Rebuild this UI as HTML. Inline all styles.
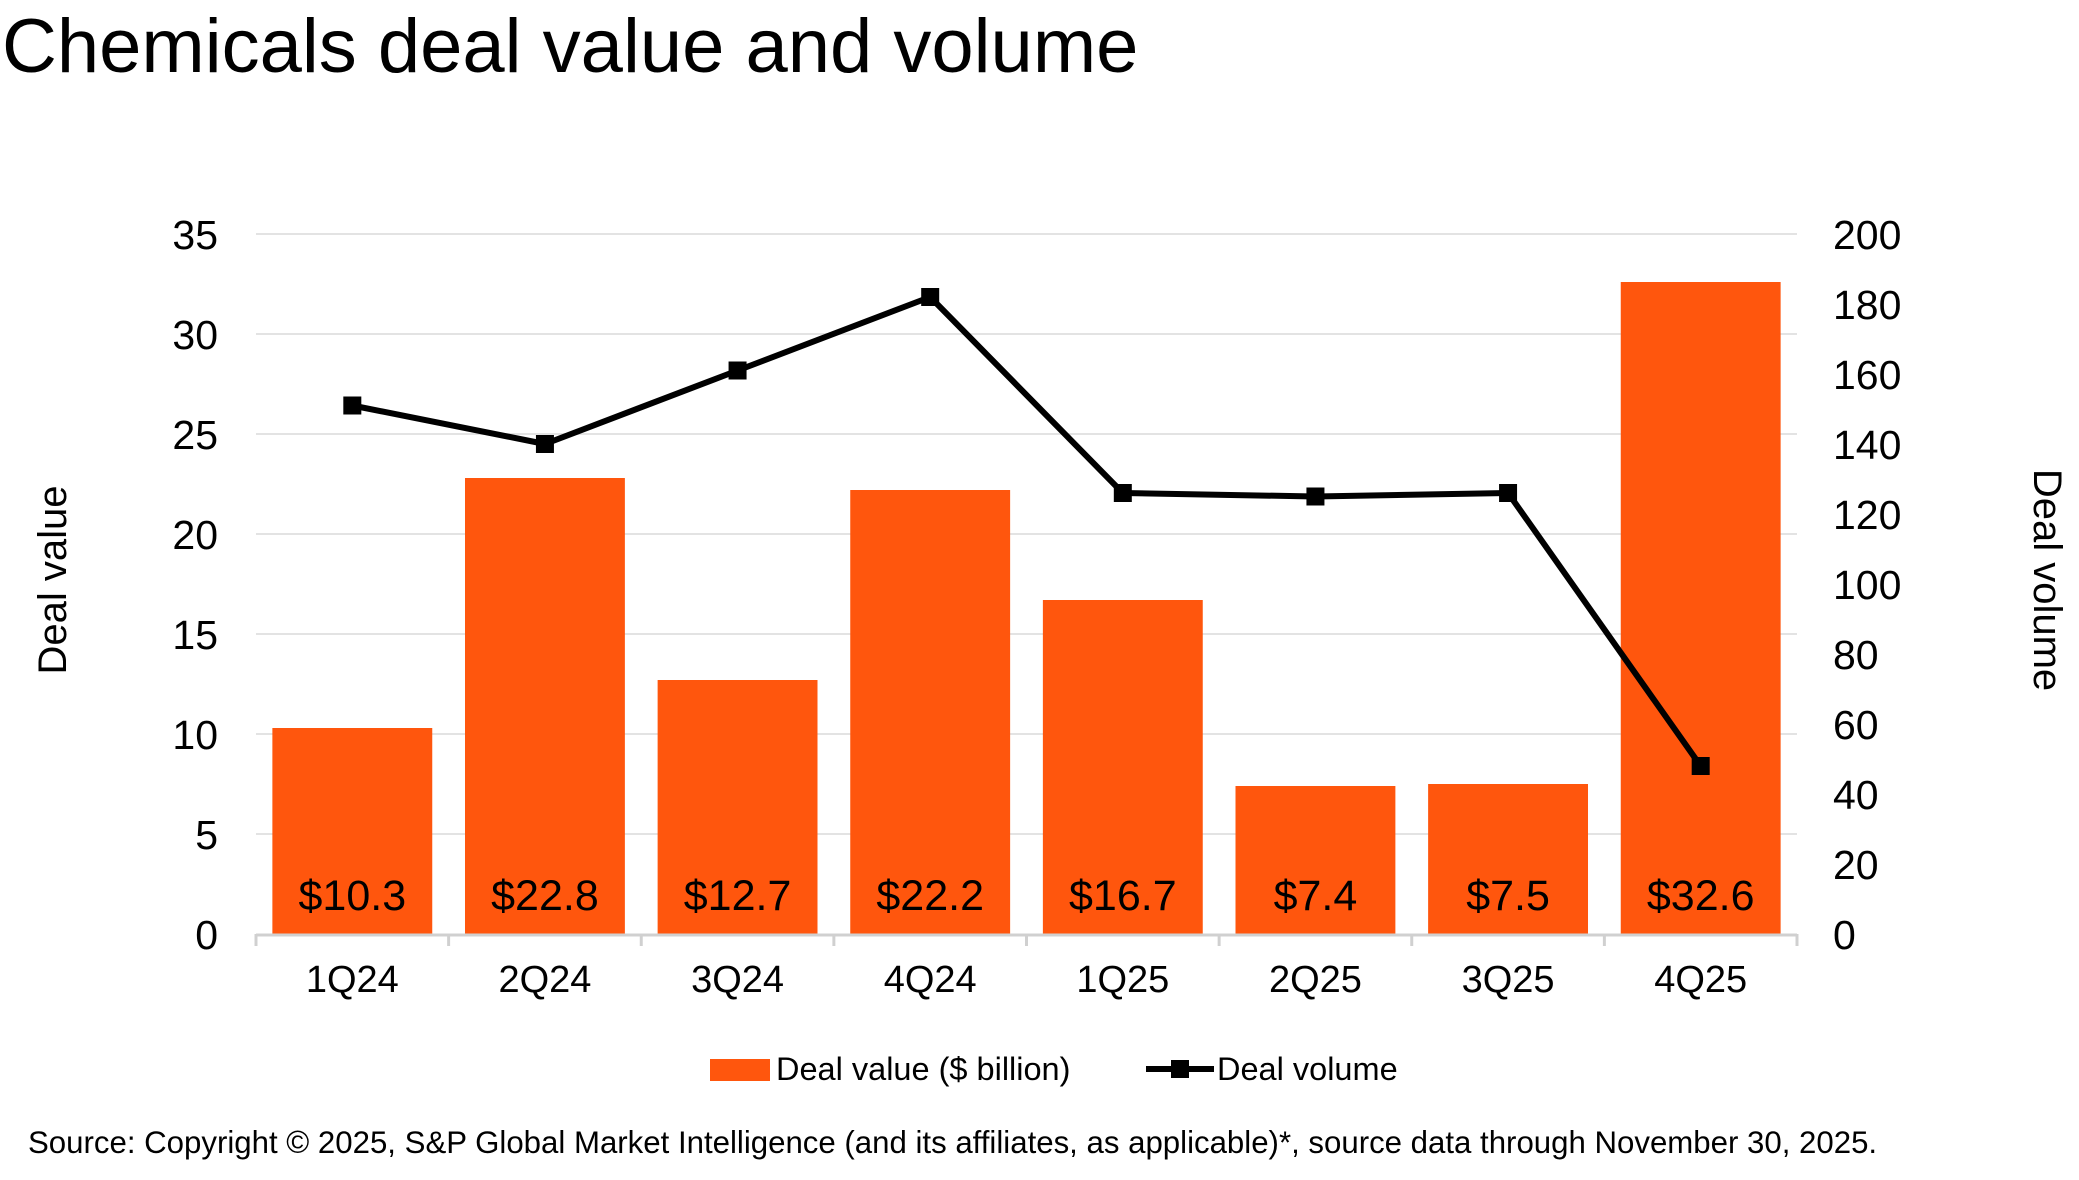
<!DOCTYPE html>
<html><head><meta charset="utf-8"><style>
html,body{margin:0;padding:0;background:#fff;}
svg{display:block;font-family:"Liberation Sans",Arial,sans-serif;}
</style></head><body>
<svg id="chart" width="2079" height="1180" viewBox="0 0 2079 1180">
<rect x="0" y="0" width="2079" height="1180" fill="#fff"/>
<text x="2" y="72" font-size="76" fill="#000">Chemicals deal value and volume</text>
<g id="grid"></g><g id="bars"></g><g id="line"></g><g id="axes"></g>
<text transform="translate(66,580) rotate(-90)" text-anchor="middle" font-size="40">Deal value</text>
<text transform="translate(2034,580) rotate(90)" text-anchor="middle" font-size="40">Deal volume</text>
<g>
<rect x="710" y="1059" width="60" height="22" fill="#FF560D"/>
<text x="776" y="1080" font-size="32.5">Deal value ($ billion)</text>
<line x1="1146" y1="1069" x2="1214" y2="1069" stroke="#000" stroke-width="6"/>
<rect x="1171" y="1060" width="18" height="18" fill="#000"/>
<text x="1217" y="1080" font-size="32.5">Deal volume</text>
</g>
<text x="28" y="1153" font-size="31.2">Source: Copyright © 2025, S&amp;P Global Market Intelligence (and its affiliates, as applicable)*, source data through November 30, 2025.</text>
</svg>
<script>
const categories = ["1Q24","2Q24","3Q24","4Q24","1Q25","2Q25","3Q25","4Q25"];
const dealValue = [10.3,22.8,12.7,22.2,16.7,7.4,7.5,32.6];
const valueLabels = ["$10.3","$22.8","$12.7","$22.2","$16.7","$7.4","$7.5","$32.6"];
const dealVolume = [151,140,161,182,126,125,126,48];
const leftTicks = [0,5,10,15,20,25,30,35];
const rightTicks = [0,20,40,60,80,100,120,140,160,180,200];

const NS="http://www.w3.org/2000/svg";
const X0=256,X1=1797,Y0=934,Y1=234;
const band=(X1-X0)/categories.length;
const xc=i=>X0+band*(i+0.5);
const yL=v=>Y0-(v/35)*(Y0-Y1);
const yR=v=>Y0-(v/200)*(Y0-Y1);
function mk(tag,attrs,parent,txt){const e=document.createElementNS(NS,tag);for(const k in attrs)e.setAttribute(k,attrs[k]);if(txt!==undefined)e.textContent=txt;parent.appendChild(e);return e;}
const grid=document.getElementById('grid'),bars=document.getElementById('bars'),line=document.getElementById('line'),axes=document.getElementById('axes');
leftTicks.forEach(t=>{
  if(t>0){const g=mk('line',{x1:X0,x2:X1,y1:yL(t),y2:yL(t),stroke:'#e3e3e3','stroke-width':2},grid);
  
  }
  const l=mk('text',{x:218,y:yL(t)+15,'text-anchor':'end','font-size':41},axes,String(t));
  
  
});
rightTicks.forEach(t=>{
  const l=mk('text',{x:1833,y:yR(t)+15,'font-size':41},axes,String(t));
  
  
});
const ax=mk('line',{x1:X0,x2:X1,y1:Y0+1,y2:Y0+1,stroke:'#d0d0d0','stroke-width':3},axes);


for(let i=0;i<=categories.length;i++){mk('line',{x1:X0+band*i,x2:X0+band*i,y1:Y0,y2:Y0+12,stroke:'#d0d0d0','stroke-width':3},axes);}
const bw=band*0.83;
categories.forEach((c,i)=>{
  const b=mk('rect',{x:xc(i)-bw/2,y:yL(dealValue[i]),width:bw,height:Y0-yL(dealValue[i]),fill:'#FF560D'},bars);
  
  
  const t=mk('text',{x:xc(i),y:910,'text-anchor':'middle','font-size':43},bars,valueLabels[i]);
  
  
  const xl=mk('text',{x:xc(i),y:992,'text-anchor':'middle','font-size':38},axes,c);
  
  
});
const pts=dealVolume.map((v,i)=>xc(i)+','+yR(v)).join(' ');
const pl=mk('polyline',{points:pts,fill:'none',stroke:'#000','stroke-width':6,'stroke-linejoin':'round'},line);


dealVolume.forEach((v,i)=>{
  const m=mk('rect',{x:xc(i)-9,y:yR(v)-9,width:18,height:18,fill:'#000'},line);
  
  
});
</script>
</body></html>
